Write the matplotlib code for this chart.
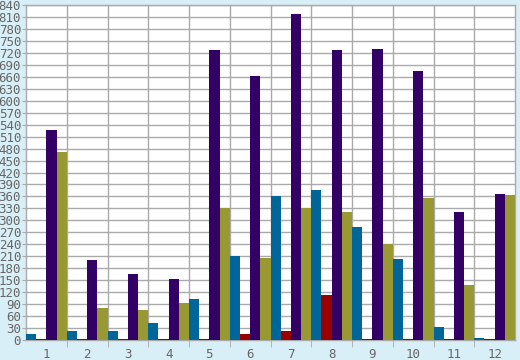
import matplotlib
matplotlib.use("Agg")
import matplotlib.pyplot as plt
import numpy as np

# Chart data
categories = ["1", "2", "3", "4", "5", "6", "7", "8", "9", "10", "11", "12"]
blue_vals = [15, 22, 22, 42, 102, 210, 360, 375, 283, 203, 33, 6]
red_vals = [2, 2, 2, 2, 2, 15, 22, 112, 2, 2, 2, 2]
purple_vals = [527, 200, 165, 153, 727, 662, 817, 727, 730, 675, 322, 367]
olive_vals = [472, 80, 75, 92, 332, 205, 330, 322, 240, 355, 138, 364]

series = [blue_vals, red_vals, purple_vals, olive_vals]
colors = ["#006699", "#990000", "#330066", "#999933"]

bg = "#d9eff7"
grid = "#aaaaaa"
txt = "#666666"

fig = plt.figure(figsize=(5.2, 3.6), dpi=100, facecolor=bg)
ax = fig.add_axes([26 / 520, 20 / 360, 489 / 520, 335 / 360])
ax.set_facecolor("white")

x = np.arange(1, len(categories) + 1)
w = 0.25
# Draw the four bars per group, edge to edge
for k, (vals, c) in enumerate(zip(series, colors)):
    ax.bar(x - 0.375 + k * w, vals, width=w, color=c, linewidth=0, zorder=3)

ax.set_xlim(0.5, 12.5)
ax.set_ylim(0, 840)
ax.set_yticks(np.arange(0, 841, 30))
ax.set_xticks(x)
ax.set_xticklabels(categories)
ax.set_xticks(np.arange(1.5, 12.5, 1), minor=True)

ax.grid(True, axis="y", color=grid, linewidth=1, zorder=0)
ax.grid(True, axis="x", which="minor", color=grid, linewidth=1, zorder=0)

ax.tick_params(axis="y", colors=grid, labelcolor=txt, labelsize=9, length=3, pad=0.5)
ax.tick_params(axis="x", which="major", length=0, labelcolor=txt, labelsize=9, pad=6)
ax.tick_params(axis="x", which="minor", colors=grid, length=5)
for lbl in ax.get_xticklabels() + ax.get_yticklabels():
    lbl.set_family("DejaVu Sans Mono")

for s in ax.spines.values():
    s.set_color(grid)
    s.set_linewidth(1)

fig.savefig("out.png", dpi=100, facecolor=bg)
